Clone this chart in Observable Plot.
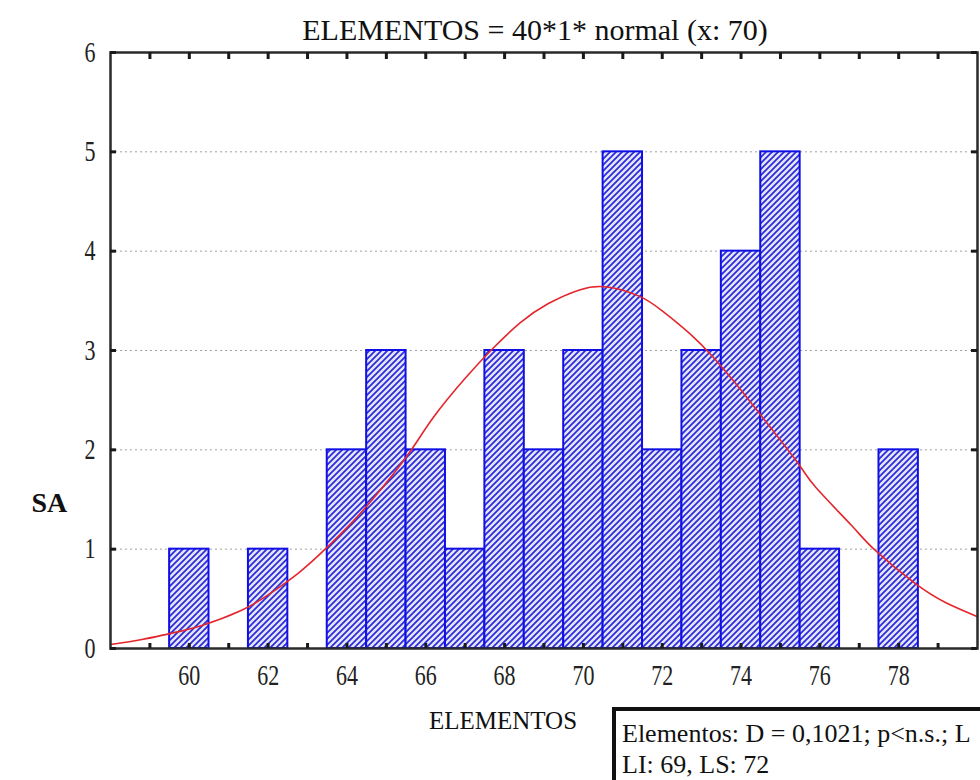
<!DOCTYPE html>
<html>
<head>
<meta charset="utf-8">
<script src="https://cdn.jsdelivr.net/npm/d3@7"></script>
<script src="https://cdn.jsdelivr.net/npm/@observablehq/plot@0.6"></script>
<style>
  html, body { margin: 0; padding: 0; background: #fff; overflow: hidden; }
  #wrap { position: relative; width: 980px; height: 780px; overflow: hidden; }
  #stats {
    position: absolute; left: 612px; top: 707px;
    border-left: 4px solid #111; border-top: 4px solid #111;
    padding: 7px 10px 0 6px; width: 420px;
    font-family: "Liberation Serif", "Times New Roman", serif;
    font-size: 26px; line-height: 31px; color: #111; white-space: nowrap;
  }
</style>
</head>
<body>
<div id="wrap"><div id="chart"></div>
<div id="stats">Elementos: D = 0,1021; p&lt;n.s.; L<br>LI: 69, LS: 72</div>
</div>
<script>
// Histogram bins (centres) and counts
const binCenters = [60, 61, 62, 63, 64, 65, 66, 67, 68, 69, 70, 71, 72, 73, 74, 75, 76, 77, 78];
const binCounts  = [ 1,  0,  1,  0,  2,  3,  2,  1,  3,  2,  3,  5,  2,  3,  4,  5,  1,  0,  2];

// Fitted normal curve
const curveX = [58, 58.8, 59.5, 60.3, 61.3, 62, 62.8, 63.5, 64.2, 64.9, 65.6, 66.2, 67, 67.7, 68.4, 69.1, 69.9, 70.6, 71.4, 72, 72.7, 73.3, 73.9, 74.4, 75.4, 75.9, 76.8, 77.4, 78.4, 79.2, 80];
const curveY = [0.04, 0.09, 0.15, 0.23, 0.38, 0.54, 0.77, 1.02, 1.3, 1.62, 1.98, 2.33, 2.72, 3.02, 3.28, 3.47, 3.61, 3.64, 3.55, 3.4, 3.17, 2.93, 2.65, 2.4, 1.89, 1.62, 1.24, 0.99, 0.66, 0.46, 0.32];

// Axis ticks
const xTickMarks = d3.range(59, 80);
const xTickLabels = [60, 62, 64, 66, 68, 70, 72, 74, 76, 78];
const yTicks = [0, 1, 2, 3, 4, 5, 6];
const gridY = [1, 2, 3, 4, 5];

const titleText = "ELEMENTOS = 40*1* normal (x: 70)";
const xLabelText = "ELEMENTOS";
const yLabelText = "SA";

const bins = binCenters.map((c, i) => ({x1: c - 0.5, x2: c + 0.5, count: binCounts[i]})).filter(d => d.count > 0);
const curve = curveX.map((x, i) => ({x, y: curveY[i]}));

const serif = "Liberation Serif, Times New Roman, serif";
const W = 980, H = 780, mL = 110, mR = 3, mT = 52, mB = 132;
const innerW = W - mL - mR, innerH = H - mT - mB;
const tickStyle = {stroke: "#1a1a1a", strokeWidth: 3};

const chart = Plot.plot({
  width: W, height: H, marginLeft: mL, marginRight: mR, marginTop: mT, marginBottom: mB,
  style: {fontFamily: serif, fontSize: "22px", color: "#222", background: "white", overflow: "visible"},
  x: {domain: [58, 80]},
  y: {domain: [0, 6]},
  marks: [
    Plot.ruleY(gridY, {stroke: "#a0a0a0", strokeDasharray: "2,3", strokeWidth: 1}),
    Plot.rectY(bins, {x1: "x1", x2: "x2", y: "count", fill: "url(#hatch)", stroke: "#1010e6", strokeWidth: 2}),
    Plot.line(curve, {x: "x", y: "y", stroke: "#e4262c", strokeWidth: 1.6, curve: "natural"}),
    Plot.frame({stroke: "#2a2a2a", strokeWidth: 2.5}),
    // inward ticks on all four sides (full-span rules trimmed by insets)
    Plot.ruleX(xTickMarks, {x: d => d, insetTop: innerH - 5, ...tickStyle}),
    Plot.ruleX(xTickMarks, {x: d => d, insetBottom: innerH - 7, ...tickStyle}),
    Plot.ruleY(yTicks, {y: d => d, insetRight: innerW - 6, ...tickStyle}),
    Plot.ruleY(yTicks, {y: d => d, insetLeft: innerW - 6, ...tickStyle}),
    // tick labels
    Plot.axisX({anchor: "bottom", ticks: xTickLabels, tickSize: 0, tickPadding: 16, tickFormat: "d", label: null, fontSize: 22, fontFamily: serif, fill: "#222"}),
    Plot.axisY({anchor: "left", ticks: yTicks, tickSize: 0, tickPadding: 15, tickFormat: "d", label: null, fontSize: 22, fontFamily: serif, fill: "#222"}),
    // titles
    Plot.text([titleText], {frameAnchor: "top", dy: -22, dx: -9, fontSize: 30, fontFamily: serif, fill: "#111", lineAnchor: "middle"}),
    Plot.text([xLabelText], {frameAnchor: "bottom", dy: 72, dx: -41, fontSize: 25, fontFamily: serif, fill: "#111", lineAnchor: "middle"}),
    Plot.text([yLabelText], {frameAnchor: "left", dx: -79, dy: 153, fontSize: 28, fontFamily: serif, fontWeight: "bold", fill: "#111", lineAnchor: "middle"})
  ]
});

// hatch pattern for the bars
const svg = d3.select(chart);
const defs = svg.insert("defs", ":first-child");
const pat = defs.append("pattern")
  .attr("id", "hatch").attr("patternUnits", "userSpaceOnUse")
  .attr("width", 6).attr("height", 6);
pat.append("rect").attr("width", 6).attr("height", 6).attr("fill", "#e4e4fb");
pat.append("path").attr("d", "M-1,1 l2,-2 M0,6 l6,-6 M5,7 l2,-2")
  .attr("stroke", "#2a2ad8").attr("stroke-width", 1.7);

// taller-looking glyphs, as in the reference
svg.selectAll('g[aria-label="x-axis tick label"] text, g[aria-label="y-axis tick label"] text')
  .attr("transform", function() { return (this.getAttribute("transform") || "") + " scale(1,1.3)"; });

document.getElementById("chart").appendChild(chart);
</script>
</body>
</html>
